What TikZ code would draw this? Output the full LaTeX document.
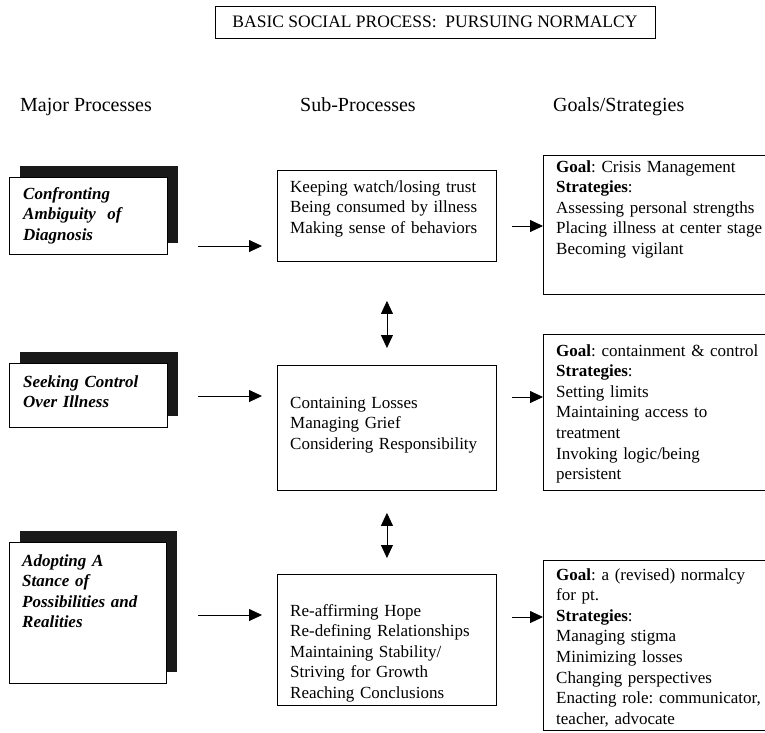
\documentclass[tikz,border=0pt]{standalone}
\usepackage{fontspec}
\setmainfont{Liberation Serif}
\usetikzlibrary{arrows.meta,shadows}
\frenchspacing

\begin{document}
\begin{tikzpicture}
		[x=1pt,y=-1pt,
		box/.style={rectangle,draw,line width=.9pt,inner sep=0pt,anchor=north west},
		shadowed/.style={box,fill=white,drop shadow={shadow xshift=11pt,shadow yshift=11pt,fill=black!90,opacity=1}},
		txt/.style={anchor=base west,inner sep=0pt,align=left,font=\fontsize{17}{20.6}\selectfont},
		major/.style={txt,font=\fontsize{17}{20.6}\selectfont\bfseries\itshape},
		flow/.style={-{Triangle[length=13pt,width=12pt]},line width=.8pt},
		twoway/.style={{Triangle[length=13pt,width=12pt]}-{Triangle[length=13pt,width=12pt]},line width=.8pt}]
		\useasboundingbox (0,0) rectangle (765,732);
		\node (Title) [box,anchor=center,minimum width=440pt,minimum height=32pt,font=\fontsize{17.5}{21}\selectfont] at (435,22) {BASIC SOCIAL PROCESS:\ \ PURSUING NORMALCY};
		\node (MajorHead) [txt,font=\fontsize{20}{24}\selectfont] at (20,111) {Major Processes};
		\node (SubHead) [txt,font=\fontsize{20}{24}\selectfont] at (300,111) {Sub-Processes};
		\node (GoalHead) [txt,font=\fontsize{20}{24}\selectfont] at (553,111) {Goals/Strategies};
		\node (MajorOne) [shadowed,minimum width=158pt,minimum height=77pt] at (9,177) {};
		\node (MajorOneText) [major,text width=150pt] at (23,199) {Confronting\\Ambiguity\ \ of\\Diagnosis};
		\node (MajorTwo) [shadowed,minimum width=158pt,minimum height=64pt] at (9,363) {};
		\node (MajorTwoText) [major,text width=150pt] at (23,387) {Seeking Control\\Over Illness};
		\node (MajorThree) [shadowed,minimum width=157pt,minimum height=141pt] at (9,542) {};
		\node (MajorThreeText) [major,text width=150pt] at (22,566) {Adopting A\\Stance of\\Possibilities and\\Realities};
		\node (SubOne) [box,minimum width=219pt,minimum height=91pt] at (277,170) {};
		\node (SubOneText) [txt,text width=205pt] at (290,192) {Keeping watch/losing trust\\Being consumed by illness\\Making sense of behaviors};
		\node (SubTwo) [box,minimum width=219pt,minimum height=125pt] at (277,365) {};
		\node (SubTwoText) [txt,text width=205pt] at (290,408) {Containing Losses\\Managing Grief\\Considering Responsibility};
		\node (SubThree) [box,minimum width=219pt,minimum height=131pt] at (277,574) {};
		\node (SubThreeText) [txt,text width=205pt] at (290,616) {Re-affirming Hope\\Re-defining Relationships\\Maintaining Stability/\\Striving for Growth\\Reaching Conclusions};
		\node (GoalOne) [box,minimum width=223pt,minimum height=139pt] at (543,155) {};
		\node (GoalOneText) [txt,text width=210pt] at (556,172) {\textbf{Goal}: Crisis Management\\\textbf{Strategies}:\\Assessing personal strengths\\Placing illness at center stage\\Becoming vigilant};
		\node (GoalTwo) [box,minimum width=223pt,minimum height=156pt] at (543,334) {};
		\node (GoalTwoText) [txt,text width=210pt] at (556,356) {\textbf{Goal}: containment \& control\\\textbf{Strategies}:\\Setting limits\\Maintaining access to\\treatment\\Invoking logic/being\\persistent};
		\node (GoalThree) [box,minimum width=223pt,minimum height=170pt] at (543,560) {};
		\node (GoalThreeText) [txt,text width=210pt] at (556,580) {\textbf{Goal}: a (revised) normalcy\\for pt.\\\textbf{Strategies}:\\Managing stigma\\Minimizing losses\\Changing perspectives\\Enacting role: communicator,\\teacher, advocate};
		\coordinate (InOne) at (198,246);
		\coordinate (InTwo) at (198,396);
		\coordinate (InThree) at (198,615);
		\coordinate (OutOne) at (512,226);
		\coordinate (OutTwo) at (512,397);
		\coordinate (OutThree) at (512,617);
		\draw[flow,shorten >=15pt] (InOne) -- (SubOne.west |- InOne);
		\draw[flow,shorten >=15pt] (InTwo) -- (SubTwo.west |- InTwo);
		\draw[flow,shorten >=15pt] (InThree) -- (SubThree.west |- InThree);
		\draw[flow] (OutOne) -- (GoalOne.west |- OutOne);
		\draw[flow] (OutTwo) -- (GoalTwo.west |- OutTwo);
		\draw[flow] (OutThree) -- (GoalThree.west |- OutThree);
		\draw[twoway,shorten <=39pt,shorten >=17pt] (SubOne) -- (SubTwo);
		\draw[twoway,shorten <=22pt,shorten >=16pt] (SubTwo) -- (SubThree);
	\end{tikzpicture}
\end{document}
